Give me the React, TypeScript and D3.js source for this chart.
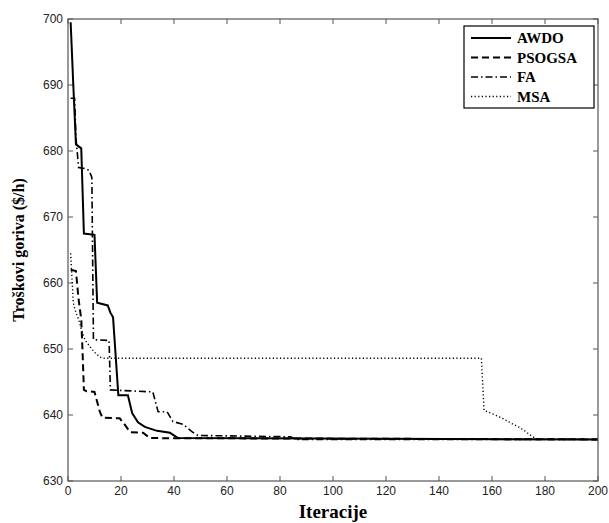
import React from "react";
import * as d3 from "d3";

const xTicks = [0, 20, 40, 60, 80, 100, 120, 140, 160, 180, 200];
const yTicks = [630, 640, 650, 660, 670, 680, 690, 700];

const seriesNames = ["AWDO", "PSOGSA", "FA", "MSA"];

const awdo: [number, number][] = [
  [1, 699.5], [2, 690], [3, 681], [5, 680.4], [6, 667.5], [10, 667.3], [11, 657],
  [15, 656.6], [16, 655.5], [17, 654.8], [19, 643], [22.6, 643], [24.2, 640.3],
  [26.4, 638.9], [29, 638.2], [33.6, 637.6], [38.5, 637.3], [41.5, 636.5], [200, 636.3],
];
const psogsa: [number, number][] = [
  [1, 662], [3, 661.8], [4, 657.5], [5, 654.5], [5.5, 649.5], [6, 643.8], [7, 643.6],
  [10, 643.5], [11, 642], [12, 640.5], [13, 639.6], [19.5, 639.5], [21.5, 638.5],
  [23.4, 637.4], [28.3, 637.3], [31, 636.5], [200, 636.3],
];
const fa: [number, number][] = [
  [1, 688], [2.5, 688], [3, 682], [4, 677.5], [7, 677.3], [8, 677], [9, 676],
  [9.6, 651.4], [15.5, 651.3], [16, 643.8], [32, 643.5], [34, 640.5], [37.4, 640.5],
  [39.6, 639], [43.4, 638.6], [47, 637.4], [49, 636.9], [84, 636.7], [86, 636.3], [200, 636.3],
];
const msa: [number, number][] = [
  [1, 664.5], [2, 657], [3, 655.5], [4, 654.5], [5, 653], [6.4, 651.4], [8, 650.5],
  [10, 649.5], [12, 648.8], [13.2, 648.6], [156, 648.6], [157, 640.7], [160, 640.2],
  [164, 639.5], [167, 638.8], [170, 638.2], [172, 637.7], [175, 636.8], [177, 636.3], [200, 636.3],
];

const allSeries = [awdo, psogsa, fa, msa];

const W = 609, H = 523;
const L = 68, R = 598, T = 19, B = 481;

const styles = [
  { dash: "none", w: 2 },
  { dash: "7,4", w: 2 },
  { dash: "7,3,1.5,3", w: 1.6 },
  { dash: "1.2,2.4", w: 1.4 },
];

export default function App() {
  const x = d3.scaleLinear().domain([0, 200]).range([L, R]);
  const y = d3.scaleLinear().domain([630, 700]).range([B, T]);
  const line = d3.line<[number, number]>().x((d) => x(d[0])).y((d) => y(d[1]));
  const axisColor = "#555";
  const tickFont = "'Liberation Sans', Arial, sans-serif";
  const serif = "'Liberation Serif', 'Times New Roman', serif";
  return (
    <svg width={W} height={H} style={{ position: "absolute", left: 0, top: 0, background: "#fff" }}>
      <rect x={0} y={0} width={W} height={H} fill="#fff" />
      <defs>
        <clipPath id="plot">
          <rect x={L} y={T} width={R - L} height={B - T} />
        </clipPath>
      </defs>
      {/* ticks */}
      {xTicks.map((t) => (
        <g key={"x" + t}>
          <line x1={x(t)} x2={x(t)} y1={B} y2={B - 5} stroke={axisColor} strokeWidth={1} />
          <line x1={x(t)} x2={x(t)} y1={T} y2={T + 5} stroke={axisColor} strokeWidth={1} />
          <text x={x(t)} y={495} fontSize={12} fontFamily={tickFont} textAnchor="middle" fill="#222">
            {t}
          </text>
        </g>
      ))}
      {yTicks.map((t) => (
        <g key={"y" + t}>
          <line x1={L} x2={L + 5} y1={y(t)} y2={y(t)} stroke={axisColor} strokeWidth={1} />
          <line x1={R} x2={R - 5} y1={y(t)} y2={y(t)} stroke={axisColor} strokeWidth={1} />
          <text x={63} y={y(t) + 4} fontSize={12} fontFamily={tickFont} textAnchor="end" fill="#222">
            {t}
          </text>
        </g>
      ))}
      <g clipPath="url(#plot)">
        {allSeries.map((s, i) => (
          <path
            key={i}
            d={line(s) || ""}
            fill="none"
            stroke="#000"
            strokeWidth={styles[i].w}
            strokeDasharray={styles[i].dash}
          />
        ))}
      </g>
      <rect x={L} y={T} width={R - L} height={B - T} fill="none" stroke={axisColor} strokeWidth={1.2} />
      {/* legend */}
      <rect x={464} y={26} width={130} height={82} fill="#fff" stroke="#000" strokeWidth={1.2} />
      {seriesNames.map((n, i) => {
        const ly = 38 + i * 19.5;
        return (
          <g key={n}>
            <line x1={471} x2={511} y1={ly} y2={ly} stroke="#000" strokeWidth={styles[i].w} strokeDasharray={styles[i].dash} />
            <text x={517} y={ly + 5} fontSize={15} fontWeight="bold" fontFamily={serif} fill="#000">
              {n}
            </text>
          </g>
        );
      })}
      <text
        transform={`translate(24,${(T + B) / 2}) rotate(-90)`}
        textAnchor="middle"
        fontSize={16}
        fontWeight="bold"
        fontFamily={serif}
        fill="#000"
      >
        Troškovi goriva ($/h)
      </text>
      <text x={(L + R) / 2} y={518} textAnchor="middle" fontSize={19} fontWeight="bold" fontFamily={serif} fill="#000">
        Iteracije
      </text>
    </svg>
  );
}
